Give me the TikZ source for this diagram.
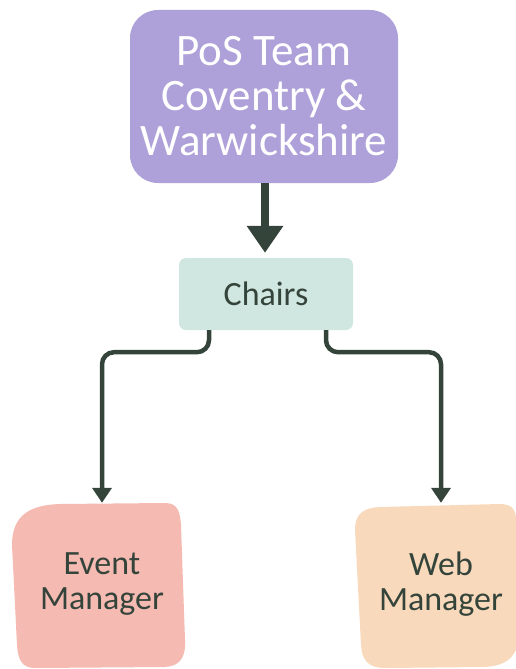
\documentclass[tikz,border=0pt]{standalone}
\usepackage{fontspec}
\setmainfont{Carlito}
\usetikzlibrary{arrows.meta}
\definecolor{lav}{RGB}{174,160,216}
\definecolor{mint}{RGB}{208,230,224}
\definecolor{pinkb}{RGB}{245,186,178}
\definecolor{peach}{RGB}{248,217,188}
\definecolor{dark}{RGB}{52,68,58}
\tikzset{
  topbox/.style={fill=lav, rounded corners=28pt, minimum width=268pt, minimum height=173pt, inner sep=0pt,
    text=white, align=center, font=\fontsize{45pt}{45pt}\selectfont},
  chairbox/.style={fill=mint, rounded corners=7pt, minimum width=174pt, minimum height=72pt, inner sep=0pt,
    text=dark, font=\fontsize{34pt}{36pt}\selectfont},
  leafbox/.style={draw=none, minimum width=170pt, minimum height=162pt, inner sep=0pt,
    text=dark, align=center, font=\fontsize{34pt}{35pt}\selectfont},
  bigarrow/.style={draw=dark, line width=8pt, -{Triangle[width=35pt,length=27pt]}},
  conn/.style={draw=dark, line width=4.5pt, rounded corners=12pt, -{Triangle[width=19pt,length=15pt]}}
}
\begin{document}
\begin{tikzpicture}[x=1pt,y=-1pt]
\useasboundingbox (0,0) rectangle (516,669);
% blobs
\fill[pinkb] (12,545) .. controls (12,515) and (30,505) .. (60,504) -- (165,503)
  .. controls (178,503) and (180,512) .. (181,525) -- (185,640)
  .. controls (186,660) and (178,666) .. (165,667) -- (35,668)
  .. controls (22,668) and (18,660) .. (17,645) -- cycle;
\fill[peach] (355,530) .. controls (355,512) and (365,508) .. (380,507) -- (500,504)
  .. controls (512,504) and (516,510) .. (516,520) -- (516,650)
  .. controls (510,662) and (500,666) .. (485,667) -- (385,668)
  .. controls (368,668) and (362,660) .. (361,645) -- cycle;
\node[topbox] (top) at (264,96.5) {PoS Team\\Coventry \&\\Warwickshire};
\node[chairbox] (chairs) at (266,294) {Chairs};
\node[leafbox] (event) at (102,584) {Event\\Manager};
\node[leafbox] (web) at (441,584) {Web\\Manager};
\draw[bigarrow, shorten >=5pt] (top.south -| 265,0) -- (chairs.north -| 265,0);
\draw[conn] ([xshift=-57pt]chairs.south) -- ++(0,22) -| (event.north);
\draw[conn] ([xshift=60pt]chairs.south) -- ++(0,22) -| (web.north);
\end{tikzpicture}
\end{document}
